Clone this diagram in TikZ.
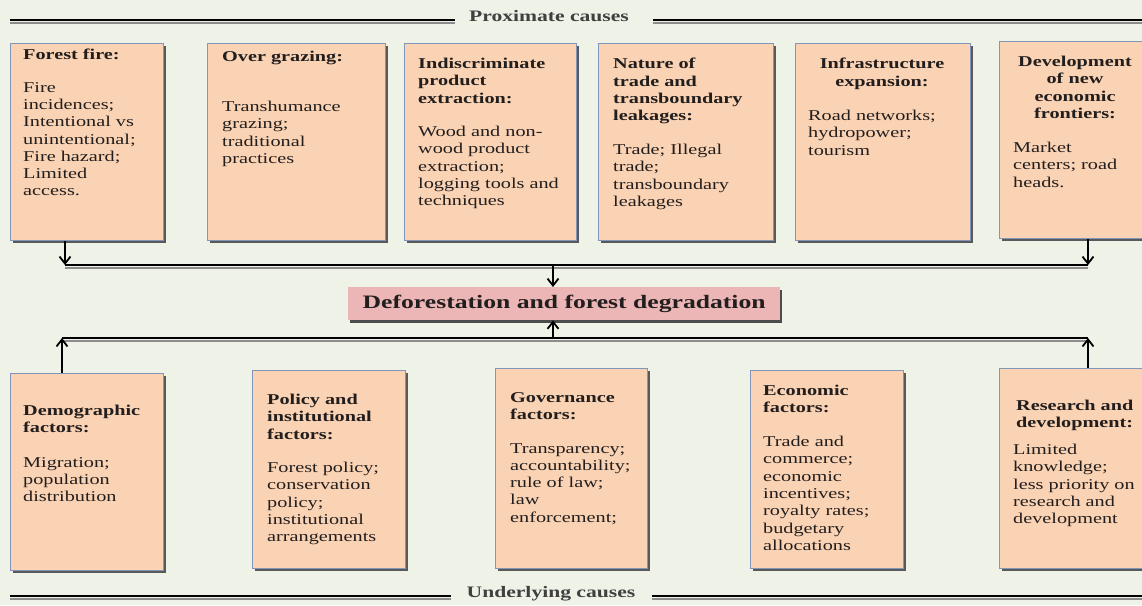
\documentclass[tikz,border=0pt]{standalone}
\usepackage{fontspec}
\setmainfont{Liberation Serif}[FakeStretch=1.35]
\usetikzlibrary{arrows.meta,shadows}
\definecolor{bg}{RGB}{238,242,231}
\definecolor{peach}{RGB}{250,211,180}
\definecolor{boxedge}{RGB}{130,150,185}
\definecolor{pinkc}{RGB}{236,182,182}
\definecolor{txt}{RGB}{35,30,30}
\tikzset{
  causebox/.style={draw=boxedge, fill=peach, line width=1.3pt, inner sep=0pt, anchor=north west,
    drop shadow={shadow xshift=2.5pt, shadow yshift=-2.5pt, fill=black!65, opacity=1}},
  bodytext/.style={font=\fontsize{15}{17.3}\selectfont, align=left, inner sep=0pt, anchor=north west, text=txt},
  headtext/.style={bodytext, font=\fontsize{15}{17.3}\selectfont\bfseries},
  headcenter/.style={headtext, align=center, anchor=north},
  rail/.style={line width=2.6pt, black, preaction={draw=black!45, line width=2.2pt, transform canvas={yshift=-3pt}}},
  arr/.style={line width=2pt, black, -{Straight Barb[length=7pt,width=11pt,line width=1.8pt]}},
  railtitle/.style={font=\fontsize{16}{18}\selectfont\bfseries, text=black!75, inner sep=0pt}
}
\begin{document}
\begin{tikzpicture}[x=1pt,y=-1pt]
\useasboundingbox (0,0) rectangle (1142,605);
\fill[bg] (0,0) rectangle (1142,605);
\clip (0,0) rectangle (1142,605);

% rails
\node[railtitle] (prox) at (549,16) {Proximate causes};
\coordinate (ptl) at (10,20);
\coordinate (ptr) at (1142,20);
\draw[rail] (ptl) -- ([xshift=-14pt]prox.west |- ptl);
\draw[rail] ([xshift=24pt]prox.east |- ptr) -- (ptr);

\node[railtitle] (und) at (551,594) {Underlying causes};
\coordinate (ubl) at (10,596);
\coordinate (ubr) at (1142,596);
\draw[rail] (ubl) -- ([xshift=-16pt]und.west |- ubl);
\draw[rail] ([xshift=16pt]und.east |- ubr) -- (ubr);

% top boxes
\node[causebox, minimum width=153, minimum height=197] (p1) at (10,43) {};
\node[causebox, minimum width=178, minimum height=197] (p2) at (207,43) {};
\node[causebox, minimum width=172, minimum height=197] (p3) at (404,43) {};
\node[causebox, minimum width=175, minimum height=197] (p4) at (598,43) {};
\node[causebox, minimum width=175, minimum height=197] (p5) at (795,43) {};
\node[causebox, minimum width=170, minimum height=197] (p6) at (999,41) {};

\node[headtext] (p1h) at (23,49) {Forest fire:};
\node[bodytext] (p1b) at (23,82) {Fire\\incidences;\\Intentional vs\\unintentional;\\Fire hazard;\\Limited\\access.};
\node[headtext] (p2h) at (222,51) {Over grazing:};
\node[bodytext] (p2b) at (222,101) {Transhumance\\grazing;\\traditional\\practices};
\node[headtext] (p3h) at (418,58) {Indiscriminate\\product\\extraction:};
\node[bodytext] (p3b) at (418,126) {Wood and non-\\wood product\\extraction;\\logging tools and\\techniques};
\node[headtext] (p4h) at (613,58) {Nature of\\trade and\\transboundary\\leakages:};
\node[bodytext] (p4b) at (613,144) {Trade; Illegal\\trade;\\transboundary\\leakages};
\node[headcenter] (p5h) at (882,58) {Infrastructure\\expansion:};
\node[bodytext] (p5b) at (808,110) {Road networks;\\hydropower;\\tourism};
\node[headcenter] (p6h) at (1075,56) {Development\\of new\\economic\\frontiers:};
\node[bodytext] (p6b) at (1013,142) {Market\\centers; road\\heads.};

% bottom boxes
\node[causebox, minimum width=153, minimum height=197] (u1) at (10,373) {};
\node[causebox, minimum width=153, minimum height=198] (u2) at (252,370) {};
\node[causebox, minimum width=152, minimum height=200] (u3) at (495,368) {};
\node[causebox, minimum width=153, minimum height=198] (u4) at (750,370) {};
\node[causebox, minimum width=170, minimum height=200] (u5) at (999,368) {};

\node[headtext] (u1h) at (23,405) {Demographic\\factors:};
\node[bodytext] (u1b) at (23,457) {Migration;\\population\\distribution};
\node[headtext] (u2h) at (267,394) {Policy and\\institutional\\factors:};
\node[bodytext] (u2b) at (267,462) {Forest policy;\\conservation\\policy;\\institutional\\arrangements};
\node[headtext] (u3h) at (510,392) {Governance\\factors:};
\node[bodytext] (u3b) at (510,443) {Transparency;\\accountability;\\rule of law;\\law\\enforcement;};
\node[headtext] (u4h) at (763,385) {Economic\\factors:};
\node[bodytext] (u4b) at (763,436) {Trade and\\commerce;\\economic\\incentives;\\royalty rates;\\budgetary\\allocations};
\node[headtext] (u5h) at (1016,400) {Research and\\development:};
\node[bodytext] (u5b) at (1013,444) {Limited\\knowledge;\\less priority on\\research and\\development};

% center box
\node[draw=none, fill=pinkc, minimum width=432, minimum height=33, anchor=north west, inner sep=0pt,
  drop shadow={shadow xshift=2pt, shadow yshift=-2.5pt, fill=black!70, opacity=1}] (c) at (348,287) {};
\node[font=\fontsize{19}{22}\selectfont\bfseries, text=txt, inner sep=0pt] (ct) at (c.center) {Deforestation and forest degradation};

% connectors
\coordinate (tl) at (65,265);
\coordinate (tr) at (1088,265);
\coordinate (tc) at (553,265);
\coordinate (bl) at (62,338);
\coordinate (br) at (1088,338);
\coordinate (bc) at (553,338);
\draw[rail] (tl) -- (tr);
\draw[rail] (bl) -- (br);
\draw[arr] (p1.south -| tl) -- (tl);
\draw[arr] (p6.south -| tr) -- (tr);
\draw[arr] (tc) -- (c.north -| tc);
\draw[arr] (u1.north -| bl) -- (bl);
\draw[arr] (u5.north -| br) -- (br);
\draw[arr] (bc) -- (c.south -| bc);
\end{tikzpicture}
\end{document}
